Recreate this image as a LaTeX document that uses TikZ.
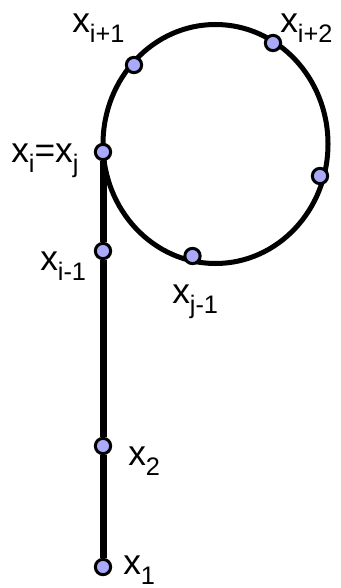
\documentclass[tikz,border=0pt]{standalone}
\usepackage{fontspec}
\setmainfont{Liberation Sans}
\usetikzlibrary{shapes.geometric,positioning}

\definecolor{dotfill}{RGB}{170,170,250}
\newcommand{\xsub}[1]{x\raisebox{-7.5pt}{\fontsize{19}{20}\selectfont #1}}

\begin{document}
\begin{tikzpicture}[x=0.75pt, y=-0.75pt,
  loopline/.style={ellipse, draw, line width=3.75pt, minimum width=168.75pt, minimum height=179.25pt, inner sep=0pt, outer sep=0pt},
  point/.style={circle, draw, line width=2.25pt, fill=dotfill, minimum size=11.5pt, inner sep=0pt},
  stem/.style={line width=5.25pt},
  lbl/.style={anchor=base west, font=\fontsize{26.5}{28}\selectfont, inner sep=0pt}
]
\useasboundingbox (0,0) rectangle (341,588);

% the loop
\node[loopline] (loop) at (215.5,144) {};

% points on the loop
\node[point] (xi) at (103,152) {};
\node[point] (xip1) at (134,65) {};
\node[point] (xip2) at (273,43) {};
\node[point] (xr) at (320,176) {};
\node[point] (xjm1) at (192.5,256) {};

% points on the stem
\node[point] (xim1) at (103,251) {};
\node[point] (x2) at (103,446) {};
\node[point] (x1) at (103,567) {};

\draw[stem] (x1) -- (x2) -- (xim1) -- (xi);

% labels
\node[lbl] (lxip1) at (72,33) {\xsub{i+1}};
\node[lbl] (lxip2) at (280,33) {\xsub{i+2}};
\node[lbl] (lxi) at (11,162) {\xsub{i}=\xsub{j}};
\node[lbl] (lxim1) at (40,270) {\xsub{i-1}};
\node[lbl] (lxjm1) at (172,303) {\xsub{j-1}};
\node[lbl] (lx2) at (128,465) {\xsub{2}};
\node[lbl] (lx1) at (123,574) {\xsub{1}};

\end{tikzpicture}
\end{document}
